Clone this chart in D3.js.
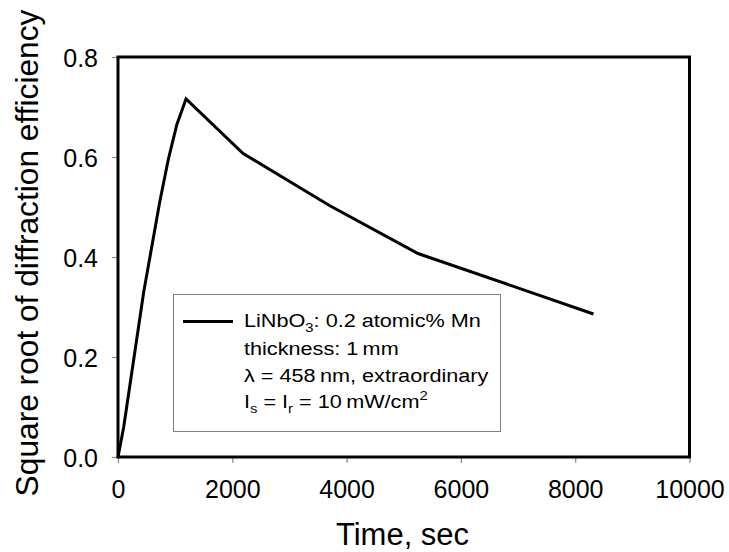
<!DOCTYPE html>
<html>
<head>
<meta charset="utf-8">
<script src="https://cdn.jsdelivr.net/npm/d3@7"></script>
<style>
  html, body { margin: 0; padding: 0; background: #fff; }
  svg { display: block; font-family: "Liberation Sans", Arial, sans-serif; }
</style>
</head>
<body>
<svg id="chart" width="729" height="552"></svg>
<script>
// Time (s) vs square root of diffraction efficiency
const timeSec = [0, 100, 450, 730, 880, 1030, 1190, 2190, 3700, 5250, 8320];
const sqrtEff = [0, 0.06, 0.33, 0.51, 0.595, 0.665, 0.716, 0.607, 0.503, 0.407, 0.286];
const xTicks = [0, 2000, 4000, 6000, 8000, 10000];
const yTicks = [0, 0.2, 0.4, 0.6, 0.8];

const svg = d3.select("#chart");
const m = { left: 118, right: 689.5, top: 57, bottom: 457 };

const x = d3.scaleLinear().domain([0, 10000]).range([m.left, m.right]);
const y = d3.scaleLinear().domain([0, 0.8]).range([m.bottom, m.top]);

// axes with short gray ticks
const xAxis = svg.append("g").attr("transform", `translate(0,${m.bottom})`)
  .call(d3.axisBottom(x).tickValues(xTicks).tickSize(6).tickPadding(18).tickFormat(d3.format("d")));
const yAxis = svg.append("g").attr("transform", `translate(${m.left},0)`)
  .call(d3.axisLeft(y).tickValues(yTicks).tickSize(6).tickPadding(14).tickFormat(d3.format(".1f")));
[xAxis, yAxis].forEach(a => {
  a.select(".domain").remove();
  a.selectAll(".tick line").attr("stroke", "#8a8a8a").attr("stroke-width", 1.2);
  a.selectAll(".tick text").attr("fill", "#000").style("font-size", "25px")
    .style("font-family", "'Liberation Sans', Arial, sans-serif");
});
xAxis.selectAll(".tick text").attr("dy", null).attr("y", 41);
yAxis.selectAll(".tick text").attr("dy", "0.36em");

// plot frame
svg.append("rect")
  .attr("x", m.left).attr("y", m.top)
  .attr("width", m.right - m.left).attr("height", m.bottom - m.top)
  .attr("fill", "none").attr("stroke", "#000").attr("stroke-width", 3);

// data line
const pts = timeSec.map((t, i) => [t, sqrtEff[i]]);
svg.append("path")
  .datum(pts)
  .attr("fill", "none").attr("stroke", "#000").attr("stroke-width", 3)
  .attr("stroke-linejoin", "miter")
  .attr("d", d3.line().x(d => x(d[0])).y(d => y(d[1])));

// legend box
const lg = svg.append("g");
lg.append("rect").attr("x", 173.5).attr("y", 294.5).attr("width", 327).attr("height", 137)
  .attr("fill", "#fff").attr("stroke", "#808080").attr("stroke-width", 1);
lg.append("line").attr("x1", 183).attr("x2", 233).attr("y1", 321.5).attr("y2", 321.5)
  .attr("stroke", "#000").attr("stroke-width", 3);

const fs = 19, sub = 13;
const baselines = [327, 355, 382, 408];
const lt = (i) => lg.append("text")
  .attr("transform", `translate(244,${baselines[i]}) scale(1.14,1)`)
  .style("font-size", fs + "px").attr("fill", "#000");

const t0 = lt(0);
t0.append("tspan").text("LiNbO");
t0.append("tspan").attr("dy", 5).style("font-size", sub + "px").text("3");
t0.append("tspan").attr("dy", -5).text(": 0.2 atomic% Mn");

lt(1).text("thickness: 1\u2009mm");
lt(2).text("λ = 458\u2009nm, extraordinary");

const t3 = lt(3);
t3.append("tspan").text("I");
t3.append("tspan").attr("dy", 5).style("font-size", sub + "px").text("s");
t3.append("tspan").attr("dy", -5).text(" = I");
t3.append("tspan").attr("dy", 5).style("font-size", sub + "px").text("r");
t3.append("tspan").attr("dy", -5).text(" = 10\u2009mW/cm");
t3.append("tspan").attr("dy", -8).style("font-size", sub + "px").text("2");

// axis titles
svg.append("text").attr("x", 402.5).attr("y", 545).attr("text-anchor", "middle")
  .style("font-size", "31px").attr("fill", "#000").text("Time, sec");
svg.append("text").attr("transform", "translate(37.5,253) rotate(-90)").attr("text-anchor", "middle")
  .style("font-size", "31.7px").attr("fill", "#000").text("Square root of diffraction efficiency");
</script>
</body>
</html>
